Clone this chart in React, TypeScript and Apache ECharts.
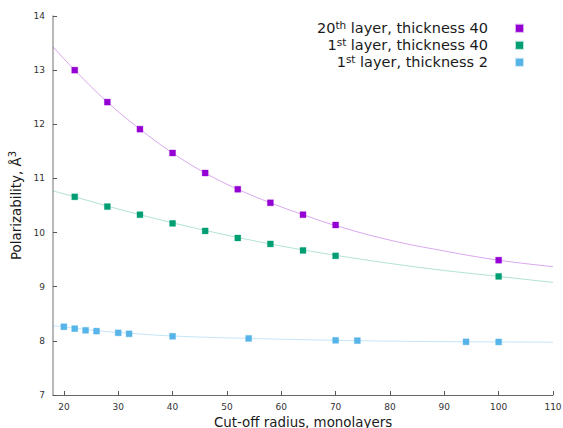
import React, { useEffect, useRef } from "react";
import * as echarts from "echarts";

// Series (measured points)
const seriesNames = ["20th layer, thickness 40", "1st layer, thickness 40", "1st layer, thickness 2"];
const legendMain = ["20", "1", "1"];
const legendSup = ["th", "st", "st"];
const legendRest = [" layer, thickness 40", " layer, thickness 40", " layer, thickness 2"];
const colors = ["#9400d3", "#009e73", "#56b4e9"];
const lineColors = ["rgba(148,0,211,0.35)", "rgba(0,158,115,0.3)", "rgba(86,180,233,0.35)"];

const l20t40X = [22, 28, 34, 40, 46, 52, 58, 64, 70, 100];
const l20t40Y = [13.0, 12.41, 11.91, 11.47, 11.1, 10.8, 10.55, 10.33, 10.14, 9.49];

const l1t40X = [22, 28, 34, 40, 46, 52, 58, 64, 70, 100];
const l1t40Y = [10.66, 10.48, 10.33, 10.17, 10.03, 9.9, 9.79, 9.67, 9.57, 9.19];

const l1t2X = [20, 22, 24, 26, 30, 32, 40, 54, 70, 74, 94, 100];
const l1t2Y = [8.26, 8.225, 8.195, 8.18, 8.148, 8.13, 8.085, 8.045, 8.01, 8.004, 7.982, 7.98];

// Fit curves
const fit20X = [18, 22, 28, 34, 40, 46, 52, 58, 64, 70, 80, 90, 100, 110];
const fit20Y = [13.43, 13.0, 12.41, 11.91, 11.47, 11.1, 10.8, 10.55, 10.33, 10.13, 9.86, 9.66, 9.49, 9.37];
const fit1X = [18, 22, 28, 34, 40, 46, 52, 58, 64, 70, 80, 90, 100, 110];
const fit1Y = [10.77, 10.66, 10.49, 10.33, 10.18, 10.04, 9.91, 9.79, 9.68, 9.58, 9.43, 9.3, 9.19, 9.08];
const fit2X = [18, 20, 22, 26, 30, 40, 54, 70, 80, 90, 100, 110];
const fit2Y = [8.28, 8.26, 8.235, 8.19, 8.155, 8.09, 8.045, 8.01, 7.995, 7.985, 7.98, 7.975];

const xTicks = [20, 30, 40, 50, 60, 70, 80, 90, 100, 110];

const FONT = "DejaVu Sans";

const zip = (xs: number[], ys: number[]) => xs.map((x, i) => [x, ys[i]]);

export default function App() {
  const ref = useRef<HTMLDivElement>(null);
  useEffect(() => {
    if (!ref.current) return;
    const chart = echarts.init(ref.current, undefined, { renderer: "svg" });
    const points = [zip(l20t40X, l20t40Y), zip(l1t40X, l1t40Y), zip(l1t2X, l1t2Y)];
    const fits = [zip(fit20X, fit20Y), zip(fit1X, fit1Y), zip(fit2X, fit2Y)];
    const lineSeries = fits.map((d, i) => ({
      type: "line",
      name: "fit" + i,
      data: d,
      smooth: 0.4,
      showSymbol: false,
      symbol: "none",
      lineStyle: { color: lineColors[i], width: 1 },
      silent: true,
      z: 1,
    }));
    const scatterSeries = points.map((d, i) => ({
      type: "scatter",
      name: seriesNames[i],
      data: d,
      symbol: "rect",
      symbolSize: 6,
      itemStyle: { color: colors[i], borderColor: lineColors[i], borderWidth: 1, opacity: 1 },
      z: 3,
    }));
    chart.setOption({
      animation: false,
      backgroundColor: "#fff",
      grid: { left: 53, right: 10, top: 16, bottom: 33, containLabel: false, outerBoundsMode: "none" },
      legend: {
        data: seriesNames,
        orient: "vertical",
        align: "right",
        right: 34,
        top: 14.5,
        itemGap: 0,
        itemWidth: 7,
        itemHeight: 7,
        icon: "rect",
        formatter: (name: string) => {
          const i = seriesNames.indexOf(name);
          return `{b|${legendMain[i]}}{s|${legendSup[i]}}{b|${legendRest[i]}}`;
        },
        textStyle: {
          padding: [0, 23, 0, 0],
          rich: {
            b: { fontFamily: FONT, fontSize: 14.5, color: "#1a1a1a", lineHeight: 17.7 },
            s: { fontFamily: FONT, fontSize: 10.5, color: "#1a1a1a", lineHeight: 17.7, verticalAlign: "top", padding: [0, 0, 6, 0] },
          },
        },
      },
      xAxis: {
        type: "value",
        min: 18,
        max: 110,
        name: "Cut-off radius, monolayers",
        nameLocation: "middle",
        nameGap: 16,
        nameTextStyle: { fontFamily: FONT, fontSize: 13.4, color: "#1a1a1a", lineHeight: 14 },
        splitLine: { show: false },
        axisLine: { lineStyle: { color: "#666", width: 1 } },
        axisTick: { inside: true, length: 4, lineStyle: { color: "#555" }, customValues: xTicks },
        axisLabel: { customValues: xTicks, fontFamily: FONT, fontSize: 9, color: "#333", margin: 7 },
      },
      yAxis: {
        type: "value",
        min: 7,
        max: 14,
        interval: 1,
        name: "Polarizability, Å{s|3}",
        nameLocation: "middle",
        nameGap: 25,
        nameRotate: 90,
        nameTextStyle: {
          fontFamily: FONT,
          fontSize: 13.4,
          color: "#1a1a1a",
          rich: { s: { fontFamily: FONT, fontSize: 10, color: "#1a1a1a", padding: [0, 0, 8, 0] } },
        },
        splitLine: { show: false },
        axisLine: { lineStyle: { color: "#a0a0a0", width: 1.5 } },
        axisTick: { inside: true, length: 4, lineStyle: { color: "#555" } },
        axisLabel: { fontFamily: FONT, fontSize: 9, color: "#333", margin: 8 },
      },
      series: [...lineSeries, ...scatterSeries],
    });
    return () => chart.dispose();
  }, []);
  return <div ref={ref} style={{ position: "fixed", left: 0, top: 0, width: 563, height: 428 }} />;
}
